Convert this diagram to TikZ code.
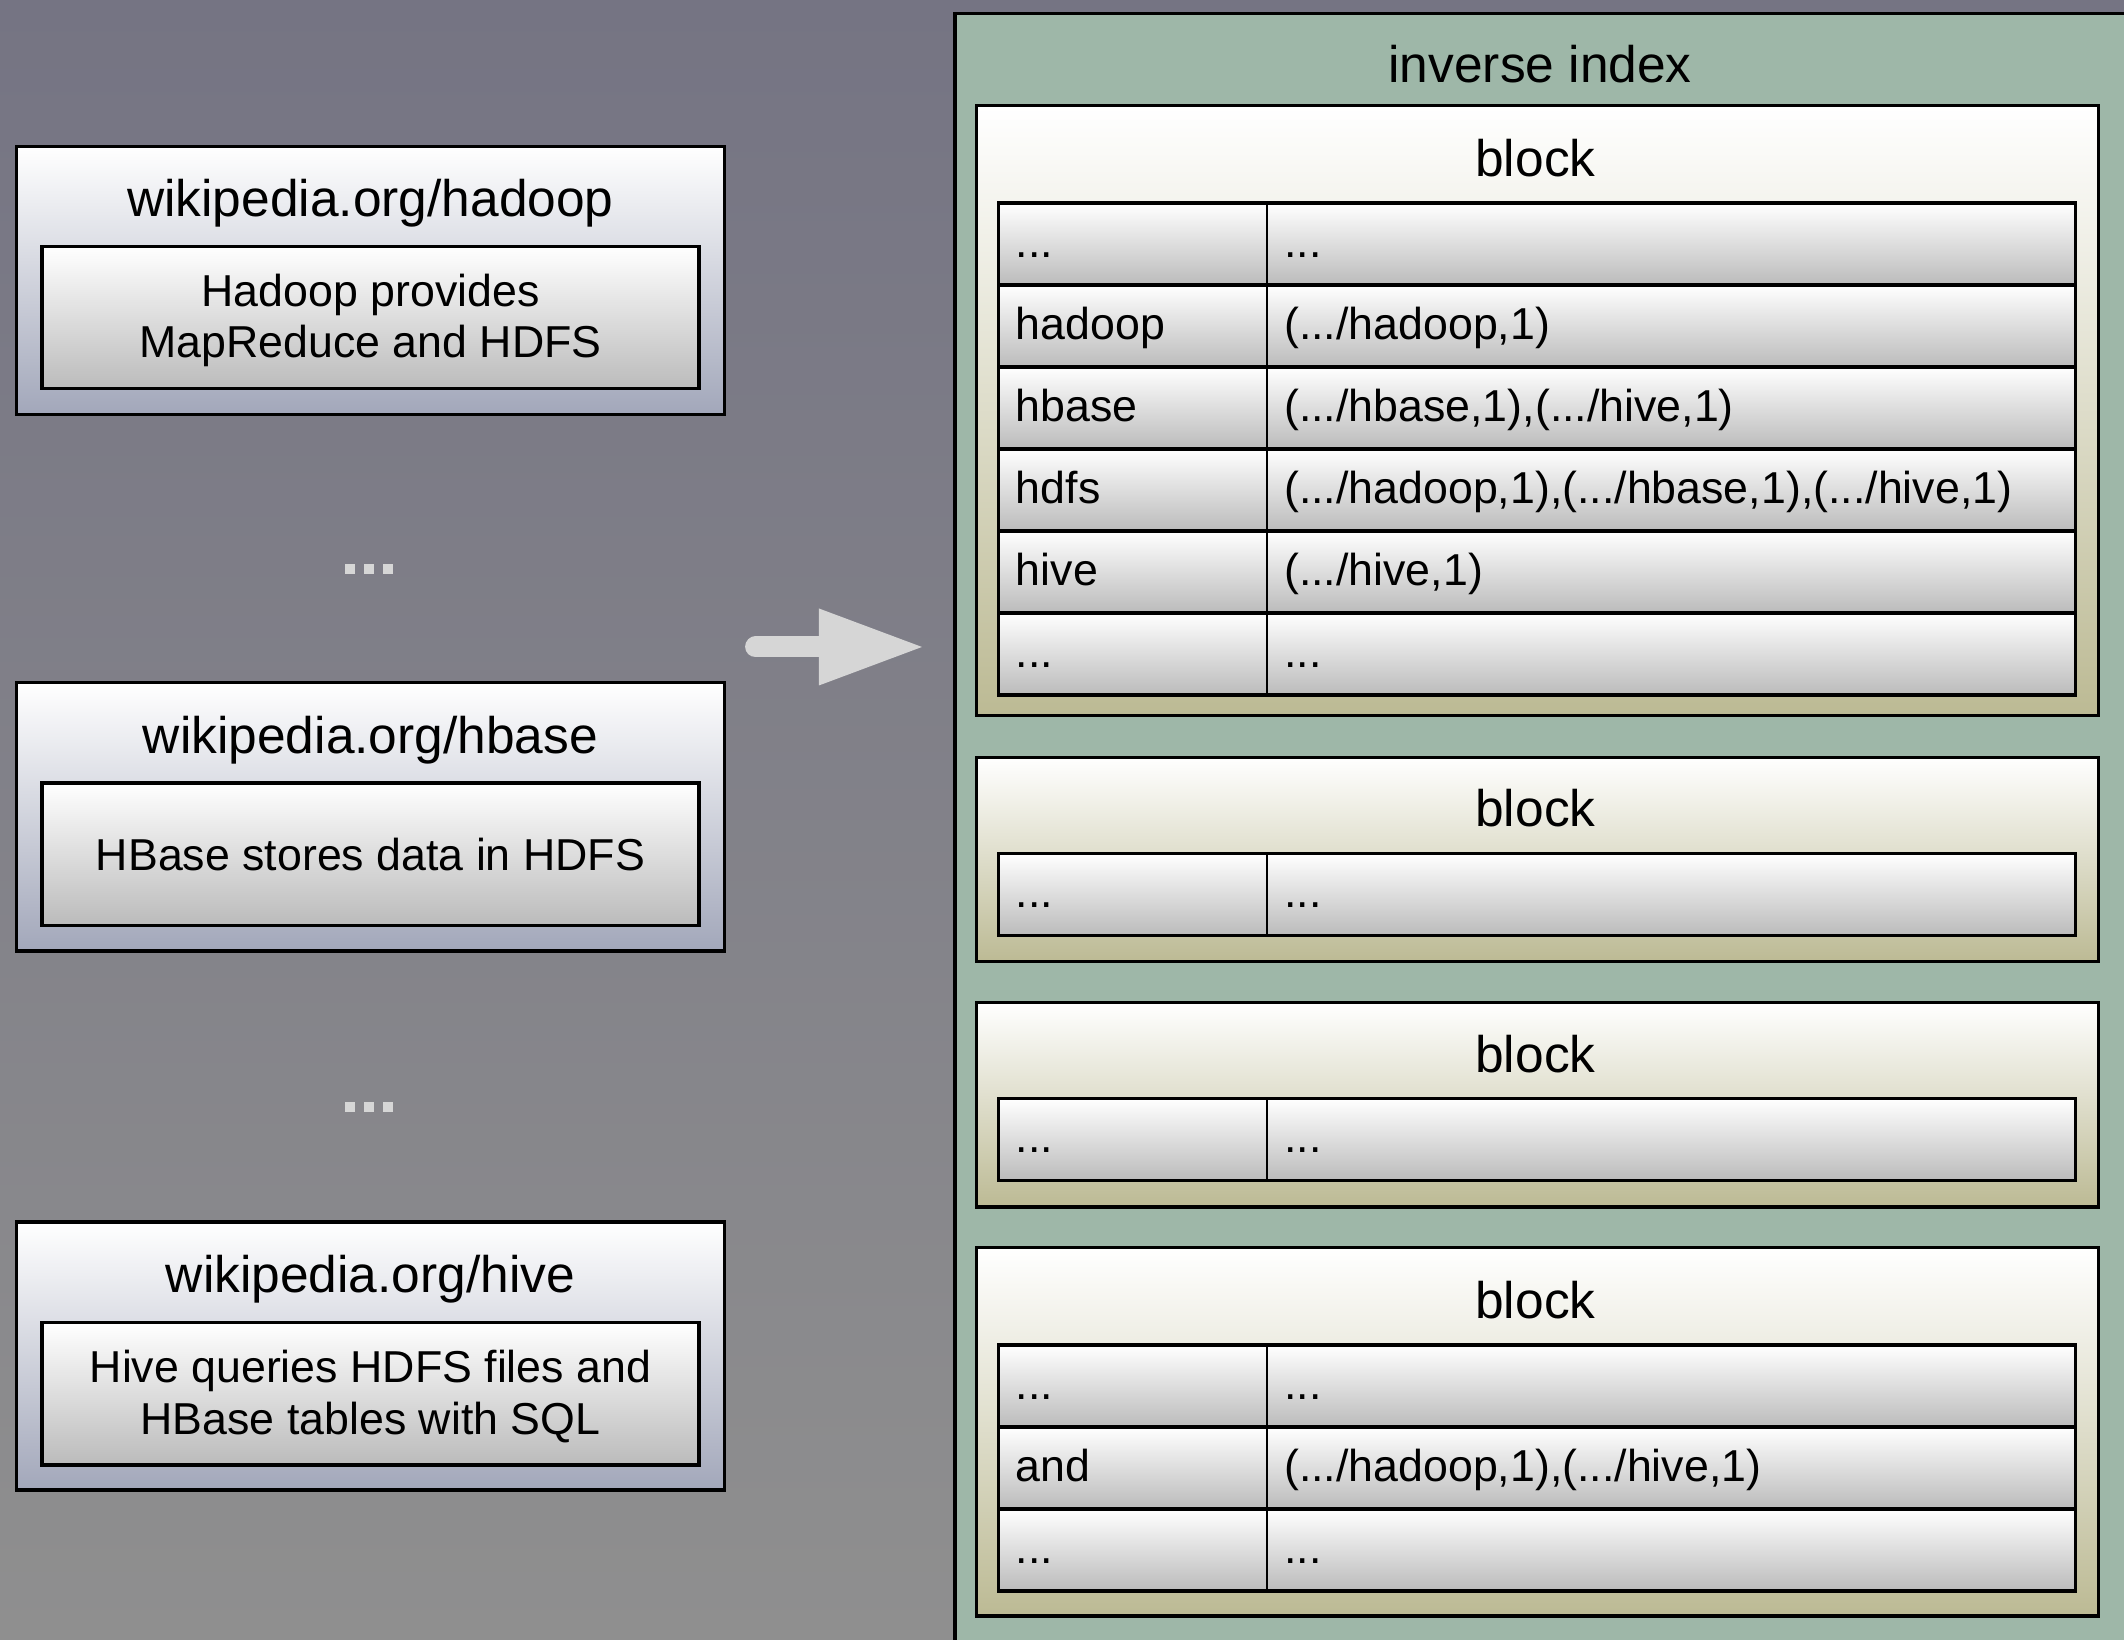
\documentclass[tikz,border=0pt]{standalone}
\usepackage{fontspec}
\setmainfont{Liberation Sans}
\definecolor{bgtop}{RGB}{117,116,131}
\definecolor{bgbot}{RGB}{143,143,143}
\definecolor{panelgreen}{RGB}{158,183,168}
\definecolor{blocktan}{RGB}{188,186,148}
\definecolor{docblue}{RGB}{162,167,186}
\definecolor{cellgray}{RGB}{187,187,187}
\definecolor{arrowgray}{RGB}{214,214,214}
\newcommand{\idxrow}[4]{%
  \node[rowcell] (#1) at (1134.5,#2+30.25) {};
  \draw[divider] ([xshift=198pt]#1.north west) -- ([xshift=198pt]#1.south west);
  \node[celltext] (#1k) at (750,#2+40) {#3};
  \node[celltext] (#1v) at (948,#2+40) {#4};}
\begin{document}
\begin{tikzpicture}[x=1pt,y=-1pt,
  every node/.style={inner sep=0pt, outer sep=0pt},
  bigfont/.style={font=\fontsize{38}{44}\selectfont},
  docbox/.style={draw=black, line width=2.5pt, top color=white, bottom color=docblue,
    minimum width=523pt, minimum height=198pt},
  textbox/.style={draw=black, line width=2.5pt, top color=white, bottom color=cellgray,
    minimum width=485pt, minimum height=105pt},
  boxtext/.style={align=center, font=\fontsize{33}{38}\selectfont},
  panelbox/.style={draw=black, line width=2.5pt, fill=panelgreen},
  blockbox/.style={draw=black, line width=2.5pt, top color=white, bottom color=blocktan,
    minimum width=828pt},
  rowcell/.style={draw=black, line width=2.5pt, top color=white, bottom color=cellgray,
    minimum width=795pt, minimum height=60.5pt},
  divider/.style={draw=black, line width=1.5pt},
  celltext/.style={anchor=base west, font=\fontsize{33}{38}\selectfont},
  titletext/.style={anchor=base, bigfont},
  dotsq/.style={fill=arrowgray, minimum size=7.4pt},
]
\useasboundingbox (0,0) rectangle (1568,1210);
\shade[top color=bgtop, bottom color=bgbot] (0,0) rectangle (1568,1210);

% left documents
\node[docbox] (doc1) at (273.5,207) {};
\node[titletext] (doc1t) at (273.5,160) {wikipedia.org/hadoop};
\node[textbox] (doc1b) at (273.5,234.5) {};
\node[boxtext] (doc1x) at (273.5,236.5) {Hadoop provides\\MapReduce and HDFS};

\node[docbox] (doc2) at (273.5,603) {};
\node[titletext] (doc2t) at (273.5,556) {wikipedia.org/hbase};
\node[textbox] (doc2b) at (273.5,630.5) {};
\node[boxtext] (doc2x) at (273.5,631) {HBase stores data in HDFS};

\node[docbox] (doc3) at (273.5,1001) {};
\node[titletext] (doc3t) at (273.5,954) {wikipedia.org/hive};
\node[textbox] (doc3b) at (273.5,1029) {};
\node[boxtext] (doc3x) at (273.5,1031) {Hive queries HDFS files and\\HBase tables with SQL};

% ellipsis dots
\node[dotsq] (d1a) at (258.7,420) {};
\node[dotsq] (d1b) at (272.7,420) {};
\node[dotsq] (d1c) at (286.7,420) {};
\node[dotsq] (d2a) at (258.7,817) {};
\node[dotsq] (d2b) at (272.7,817) {};
\node[dotsq] (d2c) at (286.7,817) {};

% arrow
\draw[arrowgray, line width=15.5pt, line cap=round] (557.8,477.6) -- (606,477.6);
\fill[arrowgray] (604.6,449.2) -- (680.6,477.6) -- (604.6,506) -- cycle;

% inverse index panel
\node[panelbox, minimum width=895pt, minimum height=1240pt] (index) at (1152.5,630) {};
\node[titletext] (indext) at (1137,61) {inverse index};

% block 1
\node[blockbox, minimum height=450pt] (blk1) at (1135,303) {};
\node[titletext] (blk1t) at (1133.5,130) {block};
\idxrow{b1r1}{150}{...}{...}
\idxrow{b1r2}{210.5}{hadoop}{(.../hadoop,1)}
\idxrow{b1r3}{271}{hbase}{(.../hbase,1),(.../hive,1)}
\idxrow{b1r4}{331.5}{hdfs}{(.../hadoop,1),(.../hbase,1),(.../hive,1)}
\idxrow{b1r5}{392}{hive}{(.../hive,1)}
\idxrow{b1r6}{452.5}{...}{...}

% block 2
\node[blockbox, minimum height=151pt] (blk2) at (1135,634.5) {};
\node[titletext] (blk2t) at (1133.5,610.5) {block};
\idxrow{b2r1}{630}{...}{...}

% block 3
\node[blockbox, minimum height=151pt] (blk3) at (1135,815.5) {};
\node[titletext] (blk3t) at (1133.5,791.5) {block};
\idxrow{b3r1}{811}{...}{...}

% block 4
\node[blockbox, minimum height=272pt] (blk4) at (1135,1057) {};
\node[titletext] (blk4t) at (1133.5,973) {block};
\idxrow{b4r1}{993}{...}{...}
\idxrow{b4r2}{1053.5}{and}{(.../hadoop,1),(.../hive,1)}
\idxrow{b4r3}{1114}{...}{...}
\end{tikzpicture}
\end{document}
